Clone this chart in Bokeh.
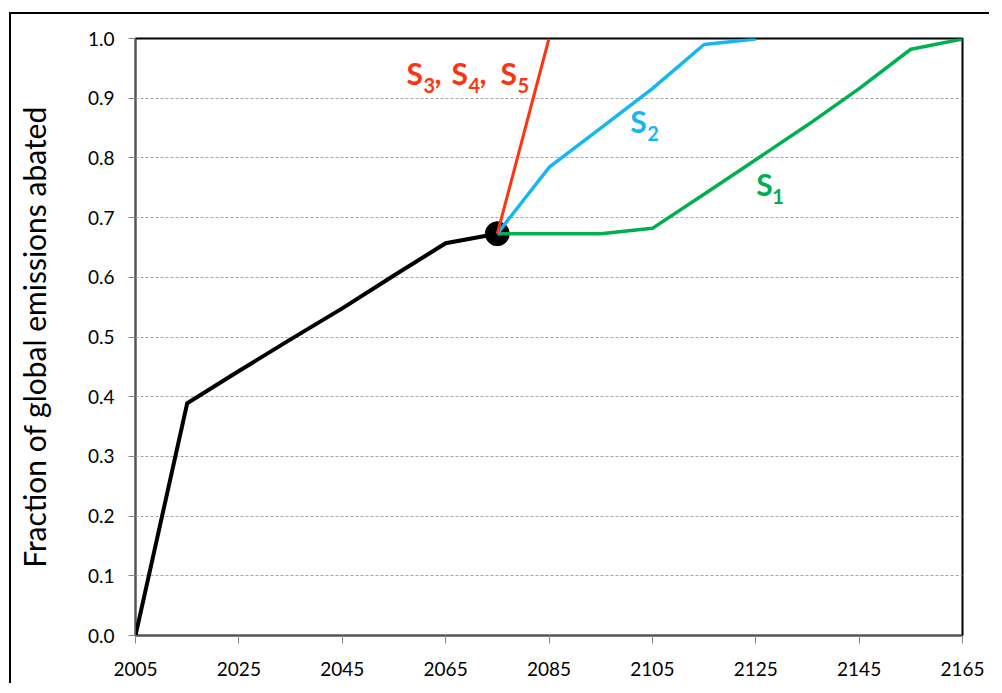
from bokeh.plotting import figure
from bokeh.models import Range1d, FixedTicker, NumeralTickFormatter
from bokeh.core.properties import value
from bokeh.embed import file_html
from bokeh.resources import INLINE

# ---- data ----
years_base = [2005, 2015, 2025, 2035, 2045, 2055, 2065, 2075]
frac_base = [0.0, 0.389, 0.443, 0.496, 0.548, 0.603, 0.657, 0.673]

years_s345 = [2075, 2085]
frac_s345 = [0.673, 1.0]

years_s2 = [2075, 2085, 2095, 2105, 2115, 2125]
frac_s2 = [0.673, 0.784, 0.850, 0.916, 0.990, 0.999]

years_s1 = [2075, 2085, 2095, 2105, 2115, 2125, 2135, 2145, 2155, 2165]
frac_s1 = [0.673, 0.673, 0.673, 0.682, 0.739, 0.797, 0.855, 0.916, 0.982, 0.999]

x_ticks = [2005, 2025, 2045, 2065, 2085, 2105, 2125, 2145, 2165]
y_ticks = [0.0, 0.1, 0.2, 0.3, 0.4, 0.5, 0.6, 0.7, 0.8, 0.9, 1.0]

y_title = "Fraction of global emissions abated"

RED = "#FF3311"
BLUE = "#14B8F0"
GREEN = "#00B050"
FONT = "Lato"

p = figure(width=980, height=671, output_backend="svg", toolbar_location=None,
           x_range=Range1d(2005, 2165), y_range=Range1d(0, 1),
           min_border_left=124, min_border_right=29, min_border_top=24, min_border_bottom=50)
p.styles = {"border-top": "2px solid black", "border-left": "2px solid black",
            "margin-top": "12px", "margin-left": "9px"}

p.outline_line_color = "black"
p.outline_line_width = 2
p.background_fill_color = "white"
p.border_fill_color = "white"

p.xgrid.visible = False
p.ygrid.grid_line_color = "#a6a6a6"
p.ygrid.grid_line_dash = "3 2"
p.ygrid.grid_line_width = 1

p.xaxis.ticker = FixedTicker(ticks=x_ticks)
p.yaxis.ticker = FixedTicker(ticks=y_ticks)
p.yaxis.formatter = NumeralTickFormatter(format="0.0")
for ax in (p.xaxis, p.yaxis):
    ax.minor_tick_line_color = None
    ax.major_tick_in = 0
    ax.major_tick_line_color = "#868686"
    ax.axis_line_color = "#555555"
    ax.major_label_text_font = FONT
    ax.major_label_text_font_size = "19px"
    ax.major_label_text_color = "black"
p.xaxis.major_tick_out = 8
p.yaxis.major_tick_out = 7
p.xaxis.major_label_standoff = 18
p.yaxis.major_label_standoff = 14

p.yaxis.axis_label = y_title
p.yaxis.axis_label_text_font = FONT
p.yaxis.axis_label_text_font_size = "30px"
p.yaxis.axis_label_text_font_style = "normal"
p.yaxis.axis_label_text_color = "black"
p.yaxis.axis_label_standoff = 33

# lines
p.line(years_base, frac_base, line_color="black", line_width=4, line_join="miter")
p.scatter([years_base[-1]], [frac_base[-1]], size=24, color="black")
p.line(years_s1, frac_s1, line_color=GREEN, line_width=3.5)
p.line(years_s2, frac_s2, line_color=BLUE, line_width=3.5)
p.line(years_s345, frac_s345, line_color=RED, line_width=3)

# labels made of pieces: (text, dx px, dy px, size)
def label(x, y, pieces, color):
    for txt, dx, dy, size in pieces:
        p.text([x], [y], text=[txt], x_offset=dx, y_offset=dy,
               text_font=value(FONT), text_font_style="bold",
               text_font_size=size, text_color=color,
               text_align="left", text_baseline="middle")

BIG = "30px"
SUB = "20px"
label(2057.6, 0.942, [("S", -1, 0, BIG), ("3", 16, 12, SUB), (",", 27, 0, BIG),
                      ("S", 44, 0, BIG), ("4", 61, 12, SUB), (",", 72, 0, BIG),
                      ("S", 93, 0, BIG), ("5", 110, 12, SUB)], RED)
label(2100.9, 0.861, [("S", -1, 0, BIG), ("2", 16, 12, SUB)], BLUE)
label(2125.3, 0.756, [("S", -1, 0, BIG), ("1", 15, 12, SUB)], GREEN)

open("out.html", "w").write(file_html(p, INLINE))
